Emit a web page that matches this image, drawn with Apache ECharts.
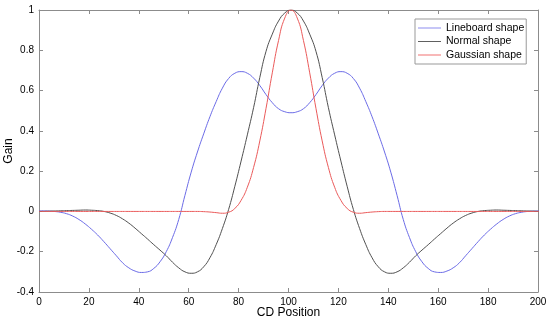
<!DOCTYPE html>
<html>
<head>
<meta charset="utf-8">
<script src="https://cdn.jsdelivr.net/npm/echarts@6/dist/echarts.min.js"></script>
<style>html,body{margin:0;padding:0;background:#fff}#c{width:550px;height:321px}</style>
</head>
<body>
<div id="c"></div>
<script>
// CD positions sampled
var cdPosition = [0,
  1,3.5,6,8.5,11,13.5,16,18.5,21,23.5,26,28.5,31,33.5,36,38.5,41,43.5,46,48.5,
  51,53.5,56,58.5,61,63.5,66,68.5,71,73.5,76,78.5,81,83.5,86,88.5,91,93.5,96,98.5,
  101,103.5,106,108.5,111,113.5,116,118.5,121,123.5,126,128.5,131,133.5,136,138.5,
  141,143.5,146,148.5,151,153.5,156,158.5,161,163.5,166,168.5,171,173.5,176,178.5,
  181,183.5,186,188.5,191,193.5,196,198.5,201];

var lineboardShape = [0.003,
  0.003,0.002,0.000,-0.004,-0.011,-0.023,-0.040,-0.062,-0.088,-0.117,
  -0.150,-0.185,-0.220,-0.255,-0.280,-0.296,-0.303,-0.300,-0.283,-0.250,
  -0.200,-0.130,-0.040,0.080,0.195,0.295,0.385,0.470,0.545,0.612,
  0.660,0.686,0.694,0.686,0.662,0.625,0.580,0.540,0.510,0.495,
  0.490,
  0.495,0.510,0.540,0.580,0.625,0.662,0.686,0.694,0.686,0.660,
  0.612,0.545,0.470,0.385,0.295,0.195,0.080,-0.040,-0.130,-0.200,
  -0.250,-0.283,-0.300,-0.303,-0.296,-0.280,-0.255,-0.220,-0.185,-0.150,
  -0.117,-0.088,-0.062,-0.040,-0.023,-0.011,-0.004,0.000,0.002,0.003];

var normalShape = [0.000,
  0.000,0.001,0.002,0.003,0.004,0.005,0.006,0.007,0.006,0.004,
  0.000,-0.008,-0.020,-0.037,-0.058,-0.083,-0.110,-0.137,-0.165,-0.192,
  -0.220,-0.252,-0.280,-0.300,-0.307,-0.300,-0.275,-0.230,-0.165,-0.085,
  0.010,0.125,0.250,0.380,0.515,0.665,0.795,0.880,0.945,0.985,
  1.000,
  0.985,0.945,0.880,0.795,0.665,0.515,0.380,0.250,0.125,0.010,
  -0.085,-0.165,-0.230,-0.275,-0.300,-0.307,-0.300,-0.280,-0.252,-0.220,
  -0.192,-0.165,-0.137,-0.110,-0.083,-0.058,-0.037,-0.020,-0.008,0.000,
  0.004,0.006,0.007,0.006,0.005,0.004,0.003,0.002,0.001,0.000];

var gaussianShape = [0.000,
  0,0,0,0,0,0,0,0,0,0,
  0,0,0,0,0,0,0,0,0,0,
  0,0,0,0,0,0,-0.001,-0.003,-0.006,-0.009,
  -0.004,0.015,0.055,0.120,0.218,0.350,0.512,0.688,0.848,0.960,
  1.000,
  0.960,0.848,0.688,0.512,0.350,0.218,0.120,0.055,0.015,-0.004,
  -0.009,-0.006,-0.003,-0.001,0,0,0,0,0,0,
  0,0,0,0,0,0,0,0,0,0,
  0,0,0,0,0,0,0,0,0,0];

var seriesNames = ['Lineboard shape', 'Normal shape', 'Gaussian shape'];
var xTicks = {min: 0, max: 200, interval: 20};
var yTicks = {min: -0.4, max: 1, interval: 0.2};

function pairs(v) { return cdPosition.map(function (x, i) { return [x, v[i]]; }); }

var axisCol = '#8c8c8c';
var font = 'Liberation Sans, Arial, sans-serif';

function xAx(pos, show) {
  return {
    type: 'value', position: pos, min: xTicks.min, max: xTicks.max, interval: xTicks.interval,
    name: show ? 'CD Position' : '', nameLocation: 'middle', nameGap: 15, nameMoveOverlap: false,
    nameTextStyle: {color: '#000', fontSize: 12, fontFamily: font},
    axisLine: {show: true, onZero: false, lineStyle: {color: axisCol, width: 1}},
    axisTick: {show: true, inside: true, length: 4, lineStyle: {color: axisCol}},
    axisLabel: {show: show, color: '#000', fontSize: 10, fontFamily: font, margin: 5},
    splitLine: {show: false}
  };
}
function yAx(pos, show) {
  return {
    type: 'value', position: pos, min: yTicks.min, max: yTicks.max, interval: yTicks.interval,
    name: show ? 'Gain' : '', nameLocation: 'middle', nameGap: 24, nameMoveOverlap: false,
    nameTextStyle: {color: '#000', fontSize: 12, fontFamily: font},
    axisLine: {show: true, onZero: false, lineStyle: {color: axisCol, width: 1}},
    axisTick: {show: true, inside: true, length: 4, lineStyle: {color: axisCol}},
    axisLabel: {show: show, color: '#000', fontSize: 10, fontFamily: font, margin: 5,
      formatter: function (v) { return String(+v.toFixed(1)); }},
    splitLine: {show: false}
  };
}

var chart = echarts.init(document.getElementById('c'), null, {renderer: 'canvas'});
chart.setOption({
  animation: false,
  backgroundColor: '#fff',
  grid: {left: 39, right: 12, top: 10, bottom: 29, containLabel: false, outerBoundsMode: 'none'},
  xAxis: [xAx('bottom', true), xAx('top', false)],
  yAxis: [yAx('left', true), yAx('right', false)],
  legend: {
    orient: 'vertical', left: 415, top: 19,
    backgroundColor: '#fff', borderColor: '#999', borderWidth: 1,
    padding: [3, 2, 3, 3], itemGap: 1.5, itemWidth: 23, itemHeight: 1, itemTextGap: 5,
    icon: 'rect',
    textStyle: {color: '#000', fontSize: 10.5, fontFamily: font, lineHeight: 12},
    data: seriesNames
  },
  series: [
    {name: seriesNames[0], type: 'line', data: pairs(lineboardShape), symbol: 'none', smooth: true,
     lineStyle: {color: '#6b6be6', width: 1}, itemStyle: {color: '#8c8cee'}},
    {name: seriesNames[1], type: 'line', data: pairs(normalShape), symbol: 'none', smooth: true,
     lineStyle: {color: '#505050', width: 1}, itemStyle: {color: '#606060'}},
    {name: seriesNames[2], type: 'line', data: pairs(gaussianShape), symbol: 'none', smooth: true,
     lineStyle: {color: '#ea5a5a', width: 1}, itemStyle: {color: '#f07070'}}
  ]
});
</script>
</body>
</html>
